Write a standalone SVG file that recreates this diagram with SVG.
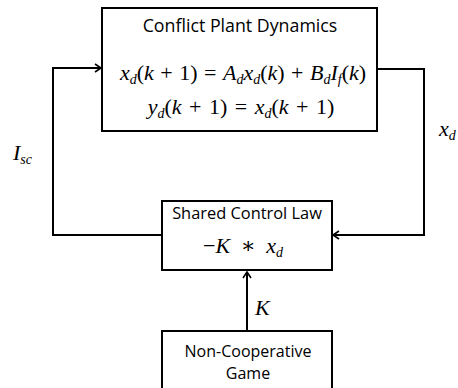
<svg xmlns="http://www.w3.org/2000/svg" width="458" height="388" viewBox="0 0 458 388">
<style>
.box{fill:#fff;stroke:#000;stroke-width:2}
.ln{fill:none;stroke:#000;stroke-width:2}
.t{font-family:"Open Sans","Liberation Sans",sans-serif;font-size:16px;fill:#000;text-anchor:middle}
.m{font-family:"Liberation Serif","DejaVu Serif",serif;font-size:22px;fill:#000}
.i{font-style:italic}
.s{font-size:14px}
</style>
<defs>
<marker id="ah" markerWidth="10" markerHeight="10" refX="8" refY="5" orient="auto" markerUnits="userSpaceOnUse">
<path d="M2,1 L8,5 L2,9" fill="none" stroke="#000" stroke-width="1.6"/>
</marker>
</defs>
<g id="connectors">
<path class="ln" d="M162,235 H53 V68 H101" marker-end="url(#ah)"/>
<path class="ln" d="M377,69 H424 V235 H333" marker-end="url(#ah)"/>
<path class="ln" d="M247,331 V272" marker-end="url(#ah)"/>
</g>
<g id="plant">
<rect class="box" x="102" y="8" width="275" height="123"/>
<text class="t" x="240" y="32" style="font-size:17.8px">Conflict Plant Dynamics</text>
<text class="m" x="243" y="80" text-anchor="middle" style="word-spacing:1px"><tspan class="i">x</tspan><tspan class="i s" dy="4">d</tspan><tspan dy="-4">(</tspan><tspan class="i">k</tspan> + 1) = <tspan class="i">A</tspan><tspan class="i s" dy="4">d</tspan><tspan class="i" dy="-4">x</tspan><tspan class="i s" dy="4">d</tspan><tspan dy="-4">(</tspan><tspan class="i">k</tspan>) + <tspan class="i">B</tspan><tspan class="i s" dy="4">d</tspan><tspan class="i" dy="-4">I</tspan><tspan class="i s" dy="4">f</tspan><tspan dy="-4">(</tspan><tspan class="i">k</tspan>)</text>
<text class="m" x="241" y="114" text-anchor="middle" style="word-spacing:2px"><tspan class="i">y</tspan><tspan class="i s" dy="4">d</tspan><tspan dy="-4">(</tspan><tspan class="i">k</tspan> + 1)  =  <tspan class="i">x</tspan><tspan class="i s" dy="4">d</tspan><tspan dy="-4">(</tspan><tspan class="i">k</tspan> + 1)</text>
</g>
<g id="control">
<rect class="box" x="162" y="201" width="170" height="69"/>
<text class="t" x="247" y="219" style="font-size:16.4px">Shared Control Law</text>
<text class="m" x="243" y="253" text-anchor="middle" style="word-spacing:5px">−<tspan class="i">K</tspan> ∗ <tspan class="i">x</tspan><tspan class="i s" dy="4">d</tspan></text>
</g>
<g id="game">
<rect class="box" x="162" y="331" width="170" height="70"/>
<text class="t" x="248" y="357">Non-Cooperative</text>
<text class="t" x="248" y="379">Game</text>
</g>
<g id="labels">
<text class="m i" x="13" y="160">I<tspan class="s" dy="4">sc</tspan></text>
<text class="m i" x="439" y="136">x<tspan class="s" dy="4">d</tspan></text>
<text class="m i" x="255" y="315">K</text>
</g>
</svg>
